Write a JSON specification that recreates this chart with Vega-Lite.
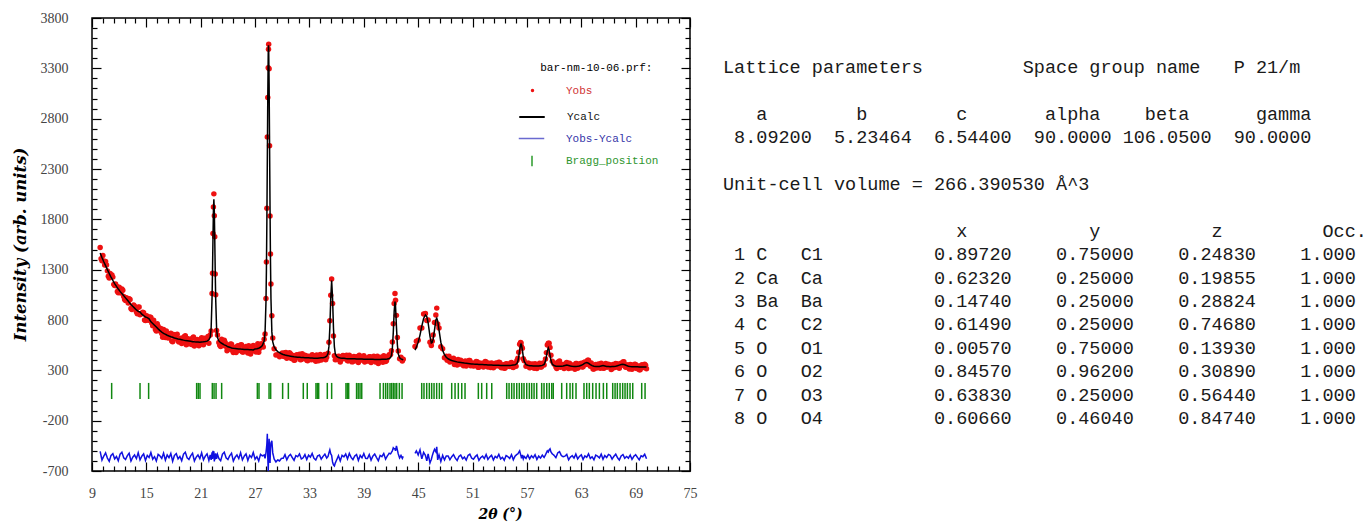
{
"$schema": "https://vega.github.io/schema/vega-lite/v6.json",
"padding": {"left": 11, "top": 10, "right": 0, "bottom": 0},
"background": "white",
"config": {"view": {"stroke": null}, "font": "Liberation Serif"},
"spacing": 25,
"hconcat": [
{
"width": 598, "height": 453,
"view": {"stroke": "#000", "strokeWidth": 1.5},
"resolve": {"axis": {"x": "independent", "y": "independent"}},
"layer": [
{
"data": {"name": "pattern"},
"mark": {"type": "point", "filled": true, "size": 30, "opacity": 1},
"encoding": {
"x": {"field": "t", "type": "quantitative", "scale": {"domain": [9, 75], "nice": false, "zero": false},
 "axis": {"orient": "bottom", "values": [9,10.2,11.4,12.6,13.8,15,16.2,17.4,18.6,19.8,21,22.2,23.4,24.6,25.8,27,28.2,29.4,30.6,31.8,33,34.2,35.4,36.6,37.8,39,40.2,41.4,42.6,43.8,45,46.2,47.4,48.6,49.8,51,52.2,53.4,54.6,55.8,57,58.2,59.4,60.6,61.8,63,64.2,65.4,66.6,67.8,69,70.2,71.4,72.6,73.8,75],
 "title": "2θ (°)", "titleFont": "DejaVu Serif", "titleFontSize": 14, "titleFontStyle": "italic", "titleFontWeight": "bold", "titleColor": "#000", "titleX": 408, "titleY": 36, "titleBaseline": "top",
 "labelExpr": "abs((datum.value - 9) / 6 - round((datum.value - 9) / 6)) < 0.01 ? format(datum.value, 'd') : ''",
 "labelFont": "Liberation Serif", "labelFontSize": 14, "labelColor": "#444", "labelPadding": 24, "labelFlush": false, "labelOverlap": false, "labelBound": false,
 "tickSize": {"condition": {"test": "abs((datum.value - 9) / 6 - round((datum.value - 9) / 6)) < 0.01", "value": -9}, "value": -5},
 "tickColor": "#000", "tickWidth": 1.2, "domain": false, "grid": false}},
"y": {"field": "o", "type": "quantitative", "scale": {"domain": [-700, 3800], "nice": false, "zero": false},
 "axis": {"orient": "left", "values": [-700,-600,-500,-400,-300,-200,-100,0,100,200,300,400,500,600,700,800,900,1000,1100,1200,1300,1400,1500,1600,1700,1800,1900,2000,2100,2200,2300,2400,2500,2600,2700,2800,2900,3000,3100,3200,3300,3400,3500,3600,3700,3800],
 "title": "Intensity (arb. units)", "titleFont": "DejaVu Serif", "titleFontSize": 16.5, "titleFontStyle": "italic", "titleFontWeight": "bold", "titleColor": "#000", "titleX": -64, "titleY": 226, "titleBaseline": "bottom",
 "labelExpr": "(datum.value + 700) % 500 === 0 ? '' + datum.value : ''",
 "labelFont": "Liberation Serif", "labelFontSize": 14, "labelColor": "#444", "labelPadding": 33, "labelFlush": false, "labelOverlap": false, "labelBound": false,
 "tickSize": {"condition": {"test": "(datum.value + 700) % 500 === 0", "value": -9}, "value": -5},
 "tickColor": "#000", "tickWidth": 1.2, "domain": false, "grid": false}},
"color": {"datum": "Yobs", "type": "nominal",
 "scale": {"domain": ["Yobs"], "range": ["#ee1111"]},
 "legend": {"orient": "none", "legendX": 435, "legendY": 44, "title": "\u200b\u00a0\u00a0bar-nm-10-06.prf:", "titleFont": "Liberation Mono", "titleFontSize": 11, "titleFontWeight": "normal", "titleColor": "#000", "titlePadding": 12,
  "labelFont": "Liberation Mono", "labelFontSize": 11, "labelColor": "#d03535", "labelOffset": 28, "symbolType": "circle", "symbolSize": 12, "symbolFillColor": "#ee1111", "padding": 0}}
}
},
{
"data": {"name": "obsx"},
"mark": {"type": "point", "filled": true, "size": 30, "opacity": 1},
"encoding": {
"x": {"field": "t", "type": "quantitative", "scale": {"domain": [9, 75], "nice": false, "zero": false}, "axis": null},
"y": {"field": "o", "type": "quantitative", "scale": {"domain": [-700, 3800], "nice": false, "zero": false}, "axis": null},
"color": {"datum": "Yobs", "type": "nominal"}
}
},
{
"data": {"name": "pattern"},
"mark": {"type": "line", "strokeWidth": 1.5},
"encoding": {
"x": {"field": "t", "type": "quantitative", "scale": {"domain": [9, 75], "nice": false, "zero": false},
 "axis": {"orient": "top", "values": [9,10.2,11.4,12.6,13.8,15,16.2,17.4,18.6,19.8,21,22.2,23.4,24.6,25.8,27,28.2,29.4,30.6,31.8,33,34.2,35.4,36.6,37.8,39,40.2,41.4,42.6,43.8,45,46.2,47.4,48.6,49.8,51,52.2,53.4,54.6,55.8,57,58.2,59.4,60.6,61.8,63,64.2,65.4,66.6,67.8,69,70.2,71.4,72.6,73.8,75],
 "title": null, "labels": false,
 "tickSize": {"condition": {"test": "abs((datum.value - 9) / 6 - round((datum.value - 9) / 6)) < 0.01", "value": -9}, "value": -5},
 "tickColor": "#000", "tickWidth": 1.2, "domain": false, "grid": false}},
"y": {"field": "c", "type": "quantitative", "scale": {"domain": [-700, 3800], "nice": false, "zero": false},
 "axis": {"orient": "right", "values": [-700,-600,-500,-400,-300,-200,-100,0,100,200,300,400,500,600,700,800,900,1000,1100,1200,1300,1400,1500,1600,1700,1800,1900,2000,2100,2200,2300,2400,2500,2600,2700,2800,2900,3000,3100,3200,3300,3400,3500,3600,3700,3800],
 "title": null, "labels": false,
 "tickSize": {"condition": {"test": "(datum.value + 700) % 500 === 0", "value": -9}, "value": -5},
 "tickColor": "#000", "tickWidth": 1.2, "domain": false, "grid": false}},
"stroke": {"datum": "Ycalc", "type": "nominal",
 "scale": {"domain": ["Ycalc"], "range": ["#000000"]},
 "legend": {"orient": "none", "legendX": 426, "legendY": 85, "title": null, "labelFont": "Liberation Mono", "labelFontSize": 11, "labelColor": "#111111", "labelOffset": 21, "symbolType": "stroke", "symbolSize": 650, "symbolStrokeWidth": 2, "padding": 0}},
"detail": {"field": "s"}
}
},
{
"data": {"name": "pattern"},
"mark": {"type": "line", "strokeWidth": 1.5, "color": "#1010e0"},
"encoding": {
"x": {"field": "t", "type": "quantitative", "scale": {"domain": [9, 75], "nice": false, "zero": false}, "axis": null},
"y": {"field": "d", "type": "quantitative", "scale": {"domain": [-700, 3800], "nice": false, "zero": false}, "axis": null},
"strokeDash": {"datum": "Yobs-Ycalc", "type": "nominal",
 "scale": {"domain": ["Yobs-Ycalc"], "range": [[1, 0]]},
 "legend": {"orient": "none", "legendX": 426, "legendY": 107, "title": null, "labelFont": "Liberation Mono", "labelFontSize": 11, "labelColor": "#3535a8", "labelOffset": 21, "symbolType": "stroke", "symbolSize": 650, "symbolStrokeWidth": 1.3, "symbolStrokeColor": "#6a6ad0", "padding": 0}},
"detail": {"field": "s"}
}
},
{
"data": {"name": "bragg"},
"mark": {"type": "rule", "color": "#118811", "strokeWidth": 1.5},
"encoding": {
"x": {"field": "t", "type": "quantitative", "scale": {"domain": [9, 75], "nice": false, "zero": false}, "axis": null},
"y": {"datum": 15, "type": "quantitative", "scale": {"domain": [-700, 3800], "nice": false, "zero": false}, "axis": null},
"y2": {"datum": 175},
"opacity": {"datum": "Bragg_position", "type": "ordinal",
 "scale": {"domain": ["Bragg_position"], "range": [1]},
 "legend": {"orient": "none", "legendX": 434, "legendY": 137, "title": null, "labelFont": "Liberation Mono", "labelFontSize": 11, "labelColor": "#2f962f", "labelOffset": 28, "symbolType": "M0,-1L0,1", "symbolSize": 110, "symbolStrokeColor": "#2a9a2a", "symbolStrokeWidth": 1.5, "symbolFillColor": "transparent", "padding": 0}}
}
}
]
},
{
"width": 640, "height": 453,
"data": {"values": [
{"r": 0, "txt": "\u200bLattice\u00a0parameters\u00a0\u00a0\u00a0\u00a0\u00a0\u00a0\u00a0\u00a0\u00a0Space\u00a0group\u00a0name\u00a0\u00a0\u00a0P\u00a021/m"},
{"r": 2, "txt": "\u200b\u00a0\u00a0\u00a0a\u00a0\u00a0\u00a0\u00a0\u00a0\u00a0\u00a0\u00a0b\u00a0\u00a0\u00a0\u00a0\u00a0\u00a0\u00a0\u00a0c\u00a0\u00a0\u00a0\u00a0\u00a0\u00a0\u00a0alpha\u00a0\u00a0\u00a0\u00a0beta\u00a0\u00a0\u00a0\u00a0\u00a0\u00a0gamma"},
{"r": 3, "txt": "\u200b\u00a08.09200\u00a0\u00a05.23464\u00a0\u00a06.54400\u00a0\u00a090.0000\u00a0106.0500\u00a0\u00a090.0000"},
{"r": 5, "txt": "\u200bUnit-cell\u00a0volume\u00a0=\u00a0266.390530\u00a0Å^3"},
{"r": 7, "txt": "\u200b\u00a0\u00a0\u00a0\u00a0\u00a0\u00a0\u00a0\u00a0\u00a0\u00a0\u00a0\u00a0\u00a0\u00a0\u00a0\u00a0\u00a0\u00a0\u00a0\u00a0\u00a0x\u00a0\u00a0\u00a0\u00a0\u00a0\u00a0\u00a0\u00a0\u00a0\u00a0\u00a0y\u00a0\u00a0\u00a0\u00a0\u00a0\u00a0\u00a0\u00a0\u00a0\u00a0z\u00a0\u00a0\u00a0\u00a0\u00a0\u00a0\u00a0\u00a0\u00a0Occ."},
{"r": 8, "txt": "\u200b\u00a01\u00a0C\u00a0\u00a0\u00a0C1\u00a0\u00a0\u00a0\u00a0\u00a0\u00a0\u00a0\u00a0\u00a0\u00a00.89720\u00a0\u00a0\u00a0\u00a00.75000\u00a0\u00a0\u00a0\u00a00.24830\u00a0\u00a0\u00a0\u00a01.000"},
{"r": 9, "txt": "\u200b\u00a02\u00a0Ca\u00a0\u00a0Ca\u00a0\u00a0\u00a0\u00a0\u00a0\u00a0\u00a0\u00a0\u00a0\u00a00.62320\u00a0\u00a0\u00a0\u00a00.25000\u00a0\u00a0\u00a0\u00a00.19855\u00a0\u00a0\u00a0\u00a01.000"},
{"r": 10, "txt": "\u200b\u00a03\u00a0Ba\u00a0\u00a0Ba\u00a0\u00a0\u00a0\u00a0\u00a0\u00a0\u00a0\u00a0\u00a0\u00a00.14740\u00a0\u00a0\u00a0\u00a00.25000\u00a0\u00a0\u00a0\u00a00.28824\u00a0\u00a0\u00a0\u00a01.000"},
{"r": 11, "txt": "\u200b\u00a04\u00a0C\u00a0\u00a0\u00a0C2\u00a0\u00a0\u00a0\u00a0\u00a0\u00a0\u00a0\u00a0\u00a0\u00a00.61490\u00a0\u00a0\u00a0\u00a00.25000\u00a0\u00a0\u00a0\u00a00.74680\u00a0\u00a0\u00a0\u00a01.000"},
{"r": 12, "txt": "\u200b\u00a05\u00a0O\u00a0\u00a0\u00a0O1\u00a0\u00a0\u00a0\u00a0\u00a0\u00a0\u00a0\u00a0\u00a0\u00a00.00570\u00a0\u00a0\u00a0\u00a00.75000\u00a0\u00a0\u00a0\u00a00.13930\u00a0\u00a0\u00a0\u00a01.000"},
{"r": 13, "txt": "\u200b\u00a06\u00a0O\u00a0\u00a0\u00a0O2\u00a0\u00a0\u00a0\u00a0\u00a0\u00a0\u00a0\u00a0\u00a0\u00a00.84570\u00a0\u00a0\u00a0\u00a00.96200\u00a0\u00a0\u00a0\u00a00.30890\u00a0\u00a0\u00a0\u00a01.000"},
{"r": 14, "txt": "\u200b\u00a07\u00a0O\u00a0\u00a0\u00a0O3\u00a0\u00a0\u00a0\u00a0\u00a0\u00a0\u00a0\u00a0\u00a0\u00a00.63830\u00a0\u00a0\u00a0\u00a00.25000\u00a0\u00a0\u00a0\u00a00.56440\u00a0\u00a0\u00a0\u00a01.000"},
{"r": 15, "txt": "\u200b\u00a08\u00a0O\u00a0\u00a0\u00a0O4\u00a0\u00a0\u00a0\u00a0\u00a0\u00a0\u00a0\u00a0\u00a0\u00a00.60660\u00a0\u00a0\u00a0\u00a00.46040\u00a0\u00a0\u00a0\u00a00.84740\u00a0\u00a0\u00a0\u00a01.000"}
]},
"mark": {"type": "text", "align": "left", "baseline": "middle", "font": "Liberation Mono", "fontSize": 18.5, "color": "#1a1a1a"},
"encoding": {
"x": {"datum": 0, "type": "quantitative", "scale": {"domain": [0, 1]}, "axis": null},
"y": {"field": "r", "type": "quantitative", "scale": {"domain": [17.265, -2.094], "nice": false, "zero": false}, "axis": null},
"text": {"field": "txt"}
}
}
],
"datasets": {
"bragg": [
{"t":11.17},{"t":14.3},{"t":15.25},{"t":20.55},{"t":20.73},{"t":20.92},{"t":22.28},{"t":22.47},{"t":22.69},{"t":23.31},{"t":27.25},{"t":27.43},{"t":28.54},{"t":28.72},{"t":30.04},{"t":30.67},{"t":32.32},{"t":32.76},{"t":33.72},{"t":33.87},{"t":34.02},{"t":34.97},{"t":35.45},{"t":37.03},{"t":37.18},{"t":37.33},{"t":38.2},{"t":38.38},{"t":38.58},{"t":38.77},{"t":40.79},{"t":41.16},{"t":41.41},{"t":41.63},{"t":41.89},{"t":42.07},{"t":42.26},{"t":42.44},{"t":42.63},{"t":42.92},{"t":43.22},{"t":45.39},{"t":45.64},{"t":45.94},{"t":46.23},{"t":46.49},{"t":46.75},{"t":47.04},{"t":47.34},{"t":47.6},{"t":48.7},{"t":49.07},{"t":49.43},{"t":49.81},{"t":50.17},{"t":51.64},{"t":52.01},{"t":52.56},{"t":53.12},{"t":54.77},{"t":55.03},{"t":55.32},{"t":55.58},{"t":55.88},{"t":56.16},{"t":56.43},{"t":56.68},{"t":56.98},{"t":57.27},{"t":57.53},{"t":57.79},{"t":58.08},{"t":58.63},{"t":58.89},{"t":59.19},{"t":59.47},{"t":59.74},{"t":59.91},{"t":60.84},{"t":61.39},{"t":61.76},{"t":62.05},{"t":62.42},{"t":63.3},{"t":63.6},{"t":63.89},{"t":64.26},{"t":64.63},{"t":65.0},{"t":65.44},{"t":65.81},{"t":66.47},{"t":66.73},{"t":66.98},{"t":67.28},{"t":67.57},{"t":67.83},{"t":68.09},{"t":68.38},{"t":68.68},{"t":69.67},{"t":70.04}
],
"obsx": [
{"t":10.0,"o":1409},{"t":10.2,"o":1440},{"t":10.4,"o":1347},{"t":10.6,"o":1347},{"t":10.8,"o":1235},{"t":11.0,"o":1262},{"t":11.2,"o":1246},{"t":11.4,"o":1154},{"t":11.6,"o":1157},{"t":11.8,"o":1082},
{"t":12.0,"o":1126},{"t":12.2,"o":1068},{"t":12.4,"o":1096},{"t":12.6,"o":1003},{"t":12.8,"o":1022},{"t":13.0,"o":970},{"t":13.2,"o":1004},{"t":13.4,"o":904},{"t":13.6,"o":948},{"t":13.8,"o":912},
{"t":14.0,"o":862},{"t":14.2,"o":930},{"t":14.4,"o":860},{"t":14.6,"o":876},{"t":14.8,"o":801},{"t":15.0,"o":842},{"t":15.2,"o":797},{"t":15.4,"o":830},{"t":15.6,"o":771},{"t":15.8,"o":797},
{"t":16.0,"o":706},{"t":16.2,"o":762},{"t":16.4,"o":692},{"t":16.6,"o":715},{"t":16.8,"o":628},{"t":17.0,"o":681},{"t":17.2,"o":690},{"t":17.4,"o":621},{"t":17.6,"o":647},{"t":17.8,"o":592},
{"t":18.0,"o":655},{"t":18.2,"o":615},{"t":18.4,"o":659},{"t":18.6,"o":582},{"t":18.8,"o":619},{"t":19.0,"o":585},{"t":19.2,"o":637},{"t":19.4,"o":554},{"t":19.6,"o":614},{"t":19.8,"o":593},
{"t":20.0,"o":556},{"t":20.2,"o":631},{"t":20.4,"o":574},{"t":20.6,"o":607},{"t":20.8,"o":545},{"t":21.0,"o":596},{"t":21.2,"o":562},{"t":21.4,"o":618},{"t":21.6,"o":585},{"t":21.8,"o":637},
{"t":23.1,"o":550},{"t":23.3,"o":610},{"t":23.5,"o":547},{"t":23.7,"o":576},{"t":23.9,"o":494},{"t":24.1,"o":550},{"t":24.3,"o":562},{"t":24.5,"o":497},{"t":24.7,"o":527},{"t":24.9,"o":477},
{"t":25.1,"o":544},{"t":25.3,"o":507},{"t":25.5,"o":555},{"t":25.7,"o":481},{"t":25.9,"o":521},{"t":26.1,"o":490},{"t":26.3,"o":544},{"t":26.5,"o":463},{"t":26.7,"o":525},{"t":26.9,"o":511},
{"t":27.1,"o":483},{"t":27.3,"o":565},{"t":27.5,"o":516},{"t":27.7,"o":563},{"t":27.9,"o":532},
{"t":30.0,"o":473},{"t":30.2,"o":438},{"t":30.4,"o":477},{"t":30.6,"o":442},{"t":30.8,"o":475},{"t":31.0,"o":418},{"t":31.2,"o":448},{"t":31.4,"o":403},{"t":31.6,"o":456},{"t":31.8,"o":432},
{"t":32.0,"o":404},{"t":32.2,"o":466},{"t":32.4,"o":420},{"t":32.6,"o":446},{"t":32.8,"o":396},{"t":33.0,"o":436},{"t":33.2,"o":406},{"t":33.4,"o":448},{"t":33.6,"o":418},{"t":33.8,"o":452},
{"t":34.0,"o":396},{"t":34.2,"o":457},{"t":34.4,"o":415},{"t":34.6,"o":448},{"t":34.8,"o":406},
{"t":36.3,"o":438},{"t":36.5,"o":405},{"t":36.7,"o":447},{"t":36.9,"o":414},{"t":37.1,"o":449},{"t":37.3,"o":394},{"t":37.5,"o":426},{"t":37.7,"o":384},{"t":37.9,"o":438},{"t":38.1,"o":416},
{"t":38.3,"o":388},{"t":38.5,"o":451},{"t":38.7,"o":405},{"t":38.9,"o":432},{"t":39.1,"o":382},{"t":39.3,"o":423},{"t":39.5,"o":393},{"t":39.7,"o":436},{"t":39.9,"o":406},{"t":40.1,"o":441},
{"t":40.3,"o":382},{"t":40.5,"o":441},{"t":40.7,"o":398},{"t":40.9,"o":429},{"t":41.1,"o":381},{"t":41.3,"o":422},{"t":41.5,"o":394},{"t":41.7,"o":441},
{"t":48.2,"o":399},{"t":48.4,"o":439},{"t":48.6,"o":393},{"t":48.8,"o":414},{"t":49.0,"o":358},{"t":49.2,"o":399},{"t":49.4,"o":407},{"t":49.6,"o":363},{"t":49.8,"o":382},{"t":50.0,"o":346},
{"t":50.2,"o":392},{"t":50.4,"o":365},{"t":50.6,"o":398},{"t":50.8,"o":345},{"t":51.0,"o":372},{"t":51.2,"o":349},{"t":51.4,"o":387},{"t":51.6,"o":330},{"t":51.8,"o":373},{"t":52.0,"o":359},
{"t":52.2,"o":334},{"t":52.4,"o":388},{"t":52.6,"o":348},{"t":52.8,"o":371},{"t":53.0,"o":327},{"t":53.2,"o":362},{"t":53.4,"o":336},{"t":53.6,"o":373},{"t":53.8,"o":348},{"t":54.0,"o":377},
{"t":54.2,"o":326},{"t":54.4,"o":355},{"t":54.6,"o":322},{"t":54.8,"o":362},{"t":55.0,"o":341},{"t":55.2,"o":373},{"t":55.4,"o":332},{"t":55.6,"o":363},{"t":55.8,"o":340},
{"t":57.2,"o":371},{"t":57.4,"o":328},{"t":57.6,"o":364},{"t":57.8,"o":320},{"t":58.0,"o":356},{"t":58.2,"o":335},{"t":58.4,"o":370},{"t":58.6,"o":332},{"t":58.8,"o":372},
{"t":60.1,"o":358},{"t":60.3,"o":319},{"t":60.5,"o":371},{"t":60.7,"o":331},{"t":60.9,"o":359},{"t":61.1,"o":318},{"t":61.3,"o":371},{"t":61.5,"o":344},{"t":61.7,"o":370},{"t":61.9,"o":323},
{"t":62.1,"o":347},{"t":62.3,"o":310},{"t":62.5,"o":369},{"t":62.7,"o":330},{"t":62.9,"o":365},{"t":63.1,"o":332},{"t":63.3,"o":378},{"t":63.5,"o":358},{"t":63.7,"o":400},{"t":63.9,"o":355},
{"t":64.1,"o":374},{"t":64.3,"o":314},{"t":64.5,"o":349},{"t":64.7,"o":324},{"t":64.9,"o":364},{"t":65.1,"o":321},{"t":65.3,"o":360},{"t":65.5,"o":320},{"t":65.7,"o":369},{"t":65.9,"o":333},
{"t":66.1,"o":354},{"t":66.3,"o":309},{"t":66.5,"o":358},{"t":66.7,"o":329},{"t":66.9,"o":366},{"t":67.1,"o":329},{"t":67.3,"o":368},{"t":67.5,"o":354},{"t":67.7,"o":386},{"t":67.9,"o":330},
{"t":68.1,"o":354},{"t":68.3,"o":313},{"t":68.5,"o":356},{"t":68.7,"o":323},{"t":68.9,"o":360},{"t":69.1,"o":318},{"t":69.3,"o":342},{"t":69.5,"o":306},{"t":69.7,"o":356},{"t":69.9,"o":328},
{"t":70.1,"o":350}
],
"pattern": [
{"t":9.9,"o":1520,"c":1465,"d":-505,"s":1},
{"t":10.1,"o":1389,"c":1420,"d":-591,"s":1},
{"t":10.3,"o":1386,"c":1378,"d":-552,"s":1},
{"t":10.5,"o":1380,"c":1340,"d":-520,"s":1},
{"t":10.7,"o":1288,"c":1300,"d":-572,"s":1},
{"t":10.9,"o":1218,"c":1262,"d":-604,"s":1},
{"t":11.1,"o":1241,"c":1226,"d":-545,"s":1},
{"t":11.3,"o":1226,"c":1193,"d":-527,"s":1},
{"t":11.5,"o":1142,"c":1162,"d":-580,"s":1},
{"t":11.7,"o":1139,"c":1134,"d":-555,"s":1},
{"t":11.9,"o":1070,"c":1108,"d":-598,"s":1},
{"t":12.1,"o":1111,"c":1084,"d":-533,"s":1},
{"t":12.3,"o":1108,"c":1062,"d":-514,"s":1},
{"t":12.5,"o":1033,"c":1042,"d":-569,"s":1},
{"t":12.7,"o":994,"c":1020,"d":-586,"s":1},
{"t":12.9,"o":1010,"c":998,"d":-548,"s":1},
{"t":13.1,"o":1012,"c":976,"d":-524,"s":1},
{"t":13.3,"o":914,"c":955,"d":-601,"s":1},
{"t":13.5,"o":933,"c":936,"d":-563,"s":1},
{"t":13.7,"o":937,"c":918,"d":-541,"s":1},
{"t":13.9,"o":883,"c":900,"d":-577,"s":1},
{"t":14.1,"o":927,"c":886,"d":-519,"s":1},
{"t":14.3,"o":851,"c":880,"d":-589,"s":1},
{"t":14.5,"o":865,"c":858,"d":-553,"s":1},
{"t":14.7,"o":873,"c":843,"d":-530,"s":1},
{"t":14.9,"o":795,"c":830,"d":-595,"s":1},
{"t":15.1,"o":838,"c":824,"d":-546,"s":1},
{"t":15.3,"o":806,"c":812,"d":-566,"s":1},
{"t":15.5,"o":826,"c":782,"d":-516,"s":1},
{"t":15.7,"o":742,"c":765,"d":-583,"s":1},
{"t":15.9,"o":750,"c":748,"d":-558,"s":1},
{"t":16.1,"o":690,"c":730,"d":-600,"s":1},
{"t":16.3,"o":737,"c":712,"d":-535,"s":1},
{"t":16.5,"o":705,"c":695,"d":-550,"s":1},
{"t":16.7,"o":665,"c":680,"d":-575,"s":1},
{"t":16.9,"o":706,"c":668,"d":-522,"s":1},
{"t":17.1,"o":625,"c":658,"d":-593,"s":1},
{"t":17.3,"o":669,"c":649,"d":-540,"s":1},
{"t":17.5,"o":633,"c":641,"d":-568,"s":1},
{"t":17.7,"o":668,"c":634,"d":-526,"s":1},
{"t":17.9,"o":584,"c":628,"d":-604,"s":1},
{"t":18.1,"o":637,"c":622,"d":-545,"s":1},
{"t":18.3,"o":650,"c":617,"d":-527,"s":1},
{"t":18.5,"o":592,"c":612,"d":-580,"s":1},
{"t":18.7,"o":613,"c":608,"d":-555,"s":1},
{"t":18.9,"o":566,"c":604,"d":-598,"s":1},
{"t":19.1,"o":627,"c":600,"d":-533,"s":1},
{"t":19.3,"o":643,"c":597,"d":-514,"s":1},
{"t":19.5,"o":585,"c":594,"d":-569,"s":1},
{"t":19.7,"o":565,"c":591,"d":-586,"s":1},
{"t":19.9,"o":600,"c":588,"d":-548,"s":1},
{"t":20.1,"o":621,"c":585,"d":-524,"s":1},
{"t":20.3,"o":542,"c":583,"d":-601,"s":1},
{"t":20.5,"o":579,"c":582,"d":-563,"s":1},
{"t":20.7,"o":600,"c":581,"d":-541,"s":1},
{"t":20.9,"o":563,"c":580,"d":-577,"s":1},
{"t":21.1,"o":623,"c":582,"d":-519,"s":1},
{"t":21.3,"o":554,"c":583,"d":-589,"s":1},
{"t":21.5,"o":593,"c":586,"d":-553,"s":1},
{"t":21.7,"o":620,"c":590,"d":-530,"s":1},
{"t":21.9,"o":568,"c":603,"d":-595,"s":1},
{"t":22.05,"o":651,"c":631,"d":-540,"s":1},
{"t":22.15,"o":690,"c":720,"d":-590,"s":1},
{"t":22.25,"o":1063,"c":1018,"d":-515,"s":1},
{"t":22.3,"o":1265,"c":1285,"d":-580,"s":1},
{"t":22.35,"o":1659,"c":1599,"d":-500,"s":1},
{"t":22.4,"o":1923,"c":1883,"d":-520,"s":1},
{"t":22.45,"o":2053,"c":1998,"d":-505,"s":1},
{"t":22.5,"o":1836,"c":1881,"d":-605,"s":1},
{"t":22.55,"o":1627,"c":1597,"d":-530,"s":1},
{"t":22.6,"o":1257,"c":1282,"d":-585,"s":1},
{"t":22.65,"o":1050,"c":1015,"d":-525,"s":1},
{"t":22.75,"o":695,"c":715,"d":-580,"s":1},
{"t":22.85,"o":650,"c":625,"d":-535,"s":1},
{"t":23.0,"o":577,"c":592,"d":-575,"s":1},
{"t":23.2,"o":536,"c":574,"d":-598,"s":1},
{"t":23.4,"o":591,"c":564,"d":-533,"s":1},
{"t":23.6,"o":599,"c":553,"d":-514,"s":1},
{"t":23.8,"o":536,"c":545,"d":-569,"s":1},
{"t":24.0,"o":508,"c":534,"d":-586,"s":1},
{"t":24.2,"o":541,"c":529,"d":-548,"s":1},
{"t":24.4,"o":558,"c":522,"d":-524,"s":1},
{"t":24.6,"o":478,"c":519,"d":-601,"s":1},
{"t":24.8,"o":514,"c":517,"d":-563,"s":1},
{"t":25.0,"o":534,"c":515,"d":-541,"s":1},
{"t":25.2,"o":496,"c":513,"d":-577,"s":1},
{"t":25.4,"o":552,"c":511,"d":-519,"s":1},
{"t":25.6,"o":481,"c":510,"d":-589,"s":1},
{"t":25.8,"o":515,"c":508,"d":-553,"s":1},
{"t":26.0,"o":537,"c":507,"d":-530,"s":1},
{"t":26.2,"o":471,"c":506,"d":-595,"s":1},
{"t":26.4,"o":519,"c":505,"d":-546,"s":1},
{"t":26.6,"o":498,"c":504,"d":-566,"s":1},
{"t":26.8,"o":547,"c":503,"d":-516,"s":1},
{"t":27.0,"o":490,"c":513,"d":-583,"s":1},
{"t":27.2,"o":517,"c":515,"d":-558,"s":1},
{"t":27.4,"o":480,"c":520,"d":-600,"s":1},
{"t":27.6,"o":554,"c":529,"d":-535,"s":1},
{"t":27.8,"o":557,"c":547,"d":-550,"s":1},
{"t":28.0,"o":610,"c":590,"d":-540,"s":1},
{"t":28.1,"o":662,"c":677,"d":-575,"s":1},
{"t":28.2,"o":1014,"c":974,"d":-520,"s":1},
{"t":28.25,"o":1376,"c":1296,"d":-480,"s":1},
{"t":28.3,"o":1911,"c":1781,"d":-430,"s":1},
{"t":28.35,"o":2619,"c":2389,"d":-330,"s":1},
{"t":28.4,"o":3011,"c":3011,"d":-560,"s":1},
{"t":28.45,"o":3305,"c":3445,"d":-700,"s":1},
{"t":28.48,"o":3490,"c":3530,"d":-600,"s":1},
{"t":28.5,"o":3540,"c":3500,"d":-520,"s":1},
{"t":28.55,"o":3296,"c":3116,"d":-380,"s":1},
{"t":28.6,"o":2532,"c":2512,"d":-540,"s":1},
{"t":28.65,"o":1832,"c":1892,"d":-620,"s":1},
{"t":28.7,"o":1456,"c":1376,"d":-480,"s":1},
{"t":28.75,"o":1157,"c":1017,"d":-420,"s":1},
{"t":28.85,"o":842,"c":682,"d":-400,"s":1},
{"t":28.95,"o":622,"c":582,"d":-520,"s":1},
{"t":29.1,"o":514,"c":534,"d":-580,"s":1},
{"t":29.3,"o":453,"c":503,"d":-610,"s":1},
{"t":29.5,"o":456,"c":486,"d":-590,"s":1},
{"t":29.7,"o":435,"c":475,"d":-600,"s":1},
{"t":29.9,"o":450,"c":465,"d":-575,"s":1},
{"t":30.1,"o":443,"c":457,"d":-574,"s":1},
{"t":30.3,"o":474,"c":452,"d":-538,"s":1},
{"t":30.5,"o":419,"c":448,"d":-589,"s":1},
{"t":30.7,"o":451,"c":444,"d":-553,"s":1},
{"t":30.9,"o":466,"c":441,"d":-535,"s":1},
{"t":31.1,"o":432,"c":438,"d":-566,"s":1},
{"t":31.3,"o":401,"c":435,"d":-594,"s":1},
{"t":31.5,"o":446,"c":433,"d":-547,"s":1},
{"t":31.7,"o":432,"c":430,"d":-558,"s":1},
{"t":31.9,"o":459,"c":429,"d":-530,"s":1},
{"t":32.1,"o":408,"c":428,"d":-580,"s":1},
{"t":32.3,"o":418,"c":427,"d":-569,"s":1},
{"t":32.5,"o":449,"c":426,"d":-537,"s":1},
{"t":32.7,"o":399,"c":425,"d":-586,"s":1},
{"t":32.9,"o":441,"c":424,"d":-543,"s":1},
{"t":33.1,"o":421,"c":423,"d":-562,"s":1},
{"t":33.3,"o":456,"c":422,"d":-526,"s":1},
{"t":33.5,"o":406,"c":421,"d":-575,"s":1},
{"t":33.7,"o":390,"c":420,"d":-590,"s":1},
{"t":33.9,"o":430,"c":420,"d":-550,"s":1},
{"t":34.1,"o":442,"c":423,"d":-541,"s":1},
{"t":34.3,"o":402,"c":424,"d":-582,"s":1},
{"t":34.5,"o":430,"c":425,"d":-555,"s":1},
{"t":34.7,"o":458,"c":430,"d":-532,"s":1},
{"t":34.9,"o":429,"c":440,"d":-571,"s":1},
{"t":35.05,"o":471,"c":466,"d":-555,"s":1},
{"t":35.15,"o":578,"c":538,"d":-520,"s":1},
{"t":35.25,"o":793,"c":723,"d":-490,"s":1},
{"t":35.35,"o":1046,"c":1016,"d":-530,"s":1},
{"t":35.45,"o":1207,"c":1192,"d":-545,"s":1},
{"t":35.55,"o":965,"c":1015,"d":-610,"s":1},
{"t":35.65,"o":641,"c":721,"d":-640,"s":1},
{"t":35.75,"o":446,"c":536,"d":-650,"s":1},
{"t":35.85,"o":404,"c":464,"d":-620,"s":1},
{"t":36.0,"o":408,"c":438,"d":-590,"s":1},
{"t":36.2,"o":440,"c":428,"d":-548,"s":1},
{"t":36.4,"o":383,"c":423,"d":-600,"s":1},
{"t":36.6,"o":437,"c":421,"d":-544,"s":1},
{"t":36.8,"o":420,"c":419,"d":-559,"s":1},
{"t":37.0,"o":446,"c":417,"d":-531,"s":1},
{"t":37.2,"o":396,"c":416,"d":-580,"s":1},
{"t":37.4,"o":450,"c":415,"d":-525,"s":1},
{"t":37.6,"o":410,"c":415,"d":-565,"s":1},
{"t":37.8,"o":387,"c":414,"d":-587,"s":1},
{"t":38.0,"o":424,"c":414,"d":-550,"s":1},
{"t":38.2,"o":436,"c":413,"d":-537,"s":1},
{"t":38.4,"o":378,"c":413,"d":-595,"s":1},
{"t":38.6,"o":427,"c":412,"d":-545,"s":1},
{"t":38.8,"o":403,"c":412,"d":-569,"s":1},
{"t":39.0,"o":444,"c":411,"d":-527,"s":1},
{"t":39.2,"o":397,"c":411,"d":-574,"s":1},
{"t":39.4,"o":394,"c":410,"d":-576,"s":1},
{"t":39.6,"o":434,"c":410,"d":-536,"s":1},
{"t":39.8,"o":377,"c":409,"d":-592,"s":1},
{"t":40.0,"o":417,"c":409,"d":-552,"s":1},
{"t":40.2,"o":436,"c":408,"d":-532,"s":1},
{"t":40.4,"o":402,"c":408,"d":-566,"s":1},
{"t":40.6,"o":369,"c":407,"d":-598,"s":1},
{"t":40.8,"o":422,"c":408,"d":-546,"s":1},
{"t":41.0,"o":412,"c":409,"d":-557,"s":1},
{"t":41.2,"o":444,"c":410,"d":-526,"s":1},
{"t":41.4,"o":388,"c":410,"d":-582,"s":1},
{"t":41.6,"o":422,"c":412,"d":-550,"s":1},
{"t":41.8,"o":454,"c":418,"d":-524,"s":1},
{"t":41.95,"o":457,"c":427,"d":-530,"s":1},
{"t":42.05,"o":495,"c":450,"d":-515,"s":1},
{"t":42.15,"o":582,"c":522,"d":-500,"s":1},
{"t":42.25,"o":762,"c":672,"d":-470,"s":1},
{"t":42.35,"o":965,"c":885,"d":-480,"s":1},
{"t":42.44,"o":1064,"c":984,"d":-480,"s":1},
{"t":42.5,"o":997,"c":937,"d":-500,"s":1},
{"t":42.6,"o":846,"c":736,"d":-450,"s":1},
{"t":42.7,"o":626,"c":556,"d":-490,"s":1},
{"t":42.8,"o":493,"c":463,"d":-530,"s":1},
{"t":42.95,"o":414,"c":424,"d":-570,"s":1},
{"t":43.1,"o":429,"c":414,"d":-545,"s":1},
{"t":43.25,"o":393,"c":408,"d":-575,"s":1},
{"t":43.35,"o":409,"c":404,"d":-555,"s":1},
{"t":44.65,"o":536,"c":501,"d":-525,"s":2},
{"t":44.8,"o":590,"c":530,"d":-500,"s":2},
{"t":45.0,"o":600,"c":580,"d":-540,"s":2},
{"t":45.2,"o":720,"c":650,"d":-490,"s":2},
{"t":45.4,"o":720,"c":740,"d":-580,"s":2},
{"t":45.6,"o":860,"c":815,"d":-515,"s":2},
{"t":45.8,"o":865,"c":850,"d":-545,"s":2},
{"t":45.95,"o":795,"c":835,"d":-600,"s":2},
{"t":46.1,"o":800,"c":770,"d":-530,"s":2},
{"t":46.3,"o":580,"c":640,"d":-620,"s":2},
{"t":46.45,"o":547,"c":572,"d":-585,"s":2},
{"t":46.55,"o":588,"c":578,"d":-550,"s":2},
{"t":46.65,"o":650,"c":610,"d":-520,"s":2},
{"t":46.8,"o":775,"c":700,"d":-485,"s":2},
{"t":46.95,"o":850,"c":800,"d":-510,"s":2},
{"t":47.05,"o":918,"c":818,"d":-460,"s":2},
{"t":47.15,"o":760,"c":790,"d":-590,"s":2},
{"t":47.3,"o":720,"c":700,"d":-540,"s":2},
{"t":47.5,"o":535,"c":580,"d":-605,"s":2},
{"t":47.7,"o":515,"c":500,"d":-545,"s":2},
{"t":47.9,"o":425,"c":455,"d":-590,"s":2},
{"t":48.1,"o":440,"c":430,"d":-550,"s":2},
{"t":48.3,"o":430,"c":415,"d":-550,"s":2},
{"t":48.5,"o":383,"c":405,"d":-587,"s":2},
{"t":48.7,"o":404,"c":398,"d":-559,"s":2},
{"t":48.9,"o":420,"c":392,"d":-537,"s":2},
{"t":49.1,"o":380,"c":388,"d":-573,"s":2},
{"t":49.3,"o":353,"c":384,"d":-596,"s":2},
{"t":49.5,"o":391,"c":381,"d":-555,"s":2},
{"t":49.7,"o":401,"c":378,"d":-542,"s":2},
{"t":49.9,"o":361,"c":375,"d":-579,"s":2},
{"t":50.1,"o":376,"c":372,"d":-561,"s":2},
{"t":50.3,"o":343,"c":370,"d":-592,"s":2},
{"t":50.5,"o":387,"c":368,"d":-546,"s":2},
{"t":50.7,"o":398,"c":366,"d":-533,"s":2},
{"t":50.9,"o":358,"c":364,"d":-571,"s":2},
{"t":51.1,"o":344,"c":362,"d":-583,"s":2},
{"t":51.3,"o":369,"c":361,"d":-557,"s":2},
{"t":51.5,"o":385,"c":360,"d":-540,"s":2},
{"t":51.7,"o":330,"c":359,"d":-594,"s":2},
{"t":51.9,"o":356,"c":358,"d":-567,"s":2},
{"t":52.1,"o":370,"c":357,"d":-552,"s":2},
{"t":52.3,"o":344,"c":356,"d":-577,"s":2},
{"t":52.5,"o":384,"c":355,"d":-536,"s":2},
{"t":52.7,"o":334,"c":354,"d":-585,"s":2},
{"t":52.9,"o":358,"c":353,"d":-560,"s":2},
{"t":53.1,"o":373,"c":352,"d":-544,"s":2},
{"t":53.3,"o":326,"c":351,"d":-590,"s":2},
{"t":53.5,"o":361,"c":351,"d":-555,"s":2},
{"t":53.7,"o":346,"c":350,"d":-569,"s":2},
{"t":53.9,"o":381,"c":350,"d":-534,"s":2},
{"t":54.1,"o":333,"c":349,"d":-581,"s":2},
{"t":54.3,"o":350,"c":349,"d":-564,"s":2},
{"t":54.5,"o":320,"c":348,"d":-593,"s":2},
{"t":54.7,"o":366,"c":348,"d":-547,"s":2},
{"t":54.9,"o":355,"c":348,"d":-558,"s":2},
{"t":55.1,"o":339,"c":349,"d":-575,"s":2},
{"t":55.3,"o":377,"c":350,"d":-538,"s":2},
{"t":55.5,"o":329,"c":352,"d":-588,"s":2},
{"t":55.7,"o":368,"c":354,"d":-551,"s":2},
{"t":55.9,"o":398,"c":368,"d":-535,"s":2},
{"t":56.0,"o":420,"c":390,"d":-530,"s":2},
{"t":56.1,"o":480,"c":435,"d":-515,"s":2},
{"t":56.2,"o":560,"c":500,"d":-500,"s":2},
{"t":56.3,"o":577,"c":552,"d":-535,"s":2},
{"t":56.35,"o":571,"c":561,"d":-550,"s":2},
{"t":56.4,"o":537,"c":552,"d":-575,"s":2},
{"t":56.5,"o":520,"c":500,"d":-540,"s":2},
{"t":56.6,"o":415,"c":435,"d":-580,"s":2},
{"t":56.7,"o":395,"c":390,"d":-555,"s":2},
{"t":56.9,"o":341,"c":356,"d":-575,"s":2},
{"t":57.1,"o":370,"c":350,"d":-540,"s":2},
{"t":57.3,"o":326,"c":346,"d":-580,"s":2},
{"t":57.5,"o":357,"c":345,"d":-548,"s":2},
{"t":57.7,"o":336,"c":344,"d":-568,"s":2},
{"t":57.9,"o":366,"c":344,"d":-538,"s":2},
{"t":58.1,"o":318,"c":343,"d":-585,"s":2},
{"t":58.3,"o":351,"c":343,"d":-552,"s":2},
{"t":58.5,"o":334,"c":346,"d":-572,"s":2},
{"t":58.7,"o":367,"c":349,"d":-542,"s":2},
{"t":58.9,"o":354,"c":359,"d":-565,"s":2},
{"t":59.05,"o":412,"c":392,"d":-540,"s":2},
{"t":59.15,"o":476,"c":436,"d":-520,"s":2},
{"t":59.25,"o":551,"c":491,"d":-500,"s":2},
{"t":59.36,"o":570,"c":522,"d":-512,"s":2},
{"t":59.45,"o":570,"c":500,"d":-490,"s":2},
{"t":59.55,"o":528,"c":448,"d":-480,"s":2},
{"t":59.65,"o":450,"c":400,"d":-510,"s":2},
{"t":59.8,"o":391,"c":361,"d":-530,"s":2},
{"t":60.0,"o":363,"c":348,"d":-545,"s":2},
{"t":60.2,"o":334,"c":341,"d":-567,"s":2},
{"t":60.4,"o":380,"c":341,"d":-521,"s":2},
{"t":60.6,"o":392,"c":340,"d":-508,"s":2},
{"t":60.8,"o":355,"c":341,"d":-546,"s":2},
{"t":61.0,"o":345,"c":343,"d":-558,"s":2},
{"t":61.2,"o":356,"c":348,"d":-552,"s":2},
{"t":61.4,"o":377,"c":352,"d":-535,"s":2},
{"t":61.6,"o":319,"c":348,"d":-589,"s":2},
{"t":61.8,"o":341,"c":343,"d":-562,"s":2},
{"t":62.0,"o":353,"c":340,"d":-547,"s":2},
{"t":62.2,"o":327,"c":339,"d":-572,"s":2},
{"t":62.4,"o":368,"c":339,"d":-531,"s":2},
{"t":62.6,"o":320,"c":340,"d":-580,"s":2},
{"t":62.8,"o":348,"c":343,"d":-555,"s":2},
{"t":63.0,"o":371,"c":350,"d":-539,"s":2},
{"t":63.2,"o":335,"c":360,"d":-585,"s":2},
{"t":63.4,"o":382,"c":372,"d":-550,"s":2},
{"t":63.6,"o":373,"c":377,"d":-564,"s":2},
{"t":63.8,"o":401,"c":370,"d":-529,"s":2},
{"t":64.0,"o":341,"c":357,"d":-576,"s":2},
{"t":64.2,"o":348,"c":347,"d":-559,"s":2},
{"t":64.4,"o":313,"c":341,"d":-588,"s":2},
{"t":64.6,"o":357,"c":339,"d":-542,"s":2},
{"t":64.8,"o":345,"c":338,"d":-553,"s":2},
{"t":65.0,"o":329,"c":339,"d":-570,"s":2},
{"t":65.2,"o":370,"c":343,"d":-533,"s":2},
{"t":65.4,"o":324,"c":347,"d":-583,"s":2},
{"t":65.6,"o":357,"c":343,"d":-546,"s":2},
{"t":65.8,"o":332,"c":338,"d":-566,"s":2},
{"t":66.0,"o":361,"c":337,"d":-536,"s":2},
{"t":66.2,"o":351,"c":336,"d":-545,"s":2},
{"t":66.4,"o":315,"c":337,"d":-582,"s":2},
{"t":66.6,"o":344,"c":338,"d":-554,"s":2},
{"t":66.8,"o":368,"c":340,"d":-532,"s":2},
{"t":67.0,"o":337,"c":345,"d":-568,"s":2},
{"t":67.2,"o":321,"c":352,"d":-591,"s":2},
{"t":67.4,"o":368,"c":358,"d":-550,"s":2},
{"t":67.6,"o":384,"c":361,"d":-537,"s":2},
{"t":67.8,"o":342,"c":356,"d":-574,"s":2},
{"t":68.0,"o":352,"c":348,"d":-556,"s":2},
{"t":68.2,"o":328,"c":341,"d":-573,"s":2},
{"t":68.4,"o":357,"c":338,"d":-541,"s":2},
{"t":68.6,"o":311,"c":336,"d":-585,"s":2},
{"t":68.8,"o":341,"c":335,"d":-554,"s":2},
{"t":69.0,"o":357,"c":335,"d":-538,"s":2},
{"t":69.2,"o":330,"c":335,"d":-565,"s":2},
{"t":69.4,"o":305,"c":334,"d":-589,"s":2},
{"t":69.6,"o":345,"c":334,"d":-549,"s":2},
{"t":69.8,"o":336,"c":334,"d":-558,"s":2},
{"t":70.0,"o":361,"c":334,"d":-533,"s":2},
{"t":70.2,"o":316,"c":334,"d":-578,"s":2}
]
}
}
